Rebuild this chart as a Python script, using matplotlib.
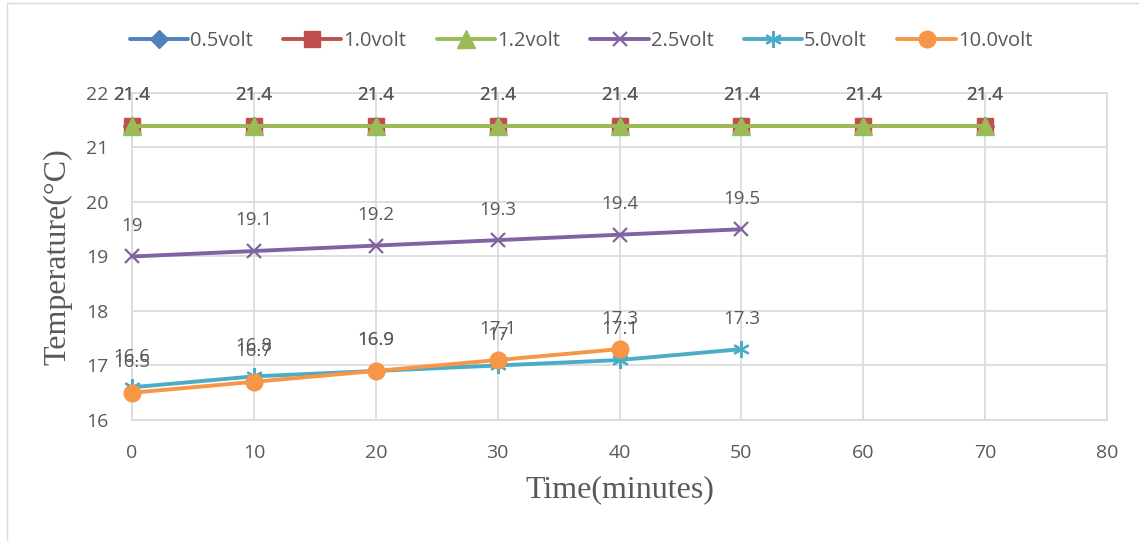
import matplotlib.pyplot as plt
from matplotlib.patches import Rectangle

# data
time_a = [0, 10, 20, 30, 40, 50, 60, 70]
time_b = [0, 10, 20, 30, 40, 50]
time_c = [0, 10, 20, 30, 40]

v05 = [21.4, 21.4, 21.4, 21.4, 21.4, 21.4, 21.4, 21.4]
v10 = [21.4, 21.4, 21.4, 21.4, 21.4, 21.4, 21.4, 21.4]
v12 = [21.4, 21.4, 21.4, 21.4, 21.4, 21.4, 21.4, 21.4]
v25 = [19, 19.1, 19.2, 19.3, 19.4, 19.5]
v50 = [16.6, 16.8, 16.9, 17, 17.1, 17.3]
v100 = [16.5, 16.7, 16.9, 17.1, 17.3]

series = [
    ("0.5volt", time_a, v05, "#4f81bd", "D", 9),
    ("1.0volt", time_a, v10, "#c0504d", "s", 12),
    ("1.2volt", time_a, v12, "#9bbb59", "^", 13),
    ("2.5volt", time_b, v25, "#8064a2", "x", 10),
    ("5.0volt", time_b, v50, "#4bacc6", (6, 2, 0), 12),
    ("10.0volt", time_c, v100, "#f79646", "o", 12),
]

txt = "#595959"
sans = ["Open Sans", "DejaVu Sans"]
serif = ["Liberation Serif", "DejaVu Serif"]

fig = plt.figure(figsize=(11.39, 5.41), dpi=100)
ax = fig.add_axes([0.1159, 0.2237, 0.8560, 0.6044])

fig.patches.append(Rectangle((7 / 1139, -0.1), 1.2, 1.1 - 3 / 541,
                             transform=fig.transFigure, fill=False,
                             edgecolor="#d9d9d9", lw=1.0))

for name, x, y, c, m, ms in series:
    mew = 1.6 if m in ("x", (6, 2, 0)) else 1
    ax.plot(x, y, color=c, lw=2.8, marker=m, markersize=ms,
            markeredgewidth=mew, markeredgecolor=c, label=name,
            solid_capstyle="round", clip_on=False, zorder=3)
    for xi, yi in zip(x, y):
        ax.annotate(f"{yi:g}", (xi, yi), xytext=(0, 22), textcoords="offset points",
                    ha="center", va="center", color=txt, fontsize=13.5,
                    family=sans, zorder=4)

ax.set_xlim(0, 80)
ax.set_ylim(16, 22)
ax.set_xticks(range(0, 81, 10))
ax.set_yticks(range(16, 23))
ax.grid(True, color="#d9d9d9", lw=1.2)
ax.set_axisbelow(True)
for s in ax.spines.values():
    s.set_color("#d9d9d9")
    s.set_linewidth(1.2)
ax.tick_params(length=0, colors=txt, labelsize=14)
for lab in ax.get_xticklabels() + ax.get_yticklabels():
    lab.set_family(sans)
ax.tick_params(axis="x", pad=17)
ax.tick_params(axis="y", pad=17)

ax.set_xlabel("Time(minutes)", family=serif, fontsize=23, color=txt, labelpad=10)
ax.set_ylabel("Temperature(°C)", family=serif, fontsize=23, color=txt, labelpad=10)

fig.legend(loc="center", bbox_to_anchor=(0.51, 0.924), ncol=6, frameon=False,
           handlelength=2.9, handletextpad=0.1, columnspacing=1.5,
           prop={"family": sans, "size": 14.5}, labelcolor=txt)

fig.savefig("out.png", dpi=100)
